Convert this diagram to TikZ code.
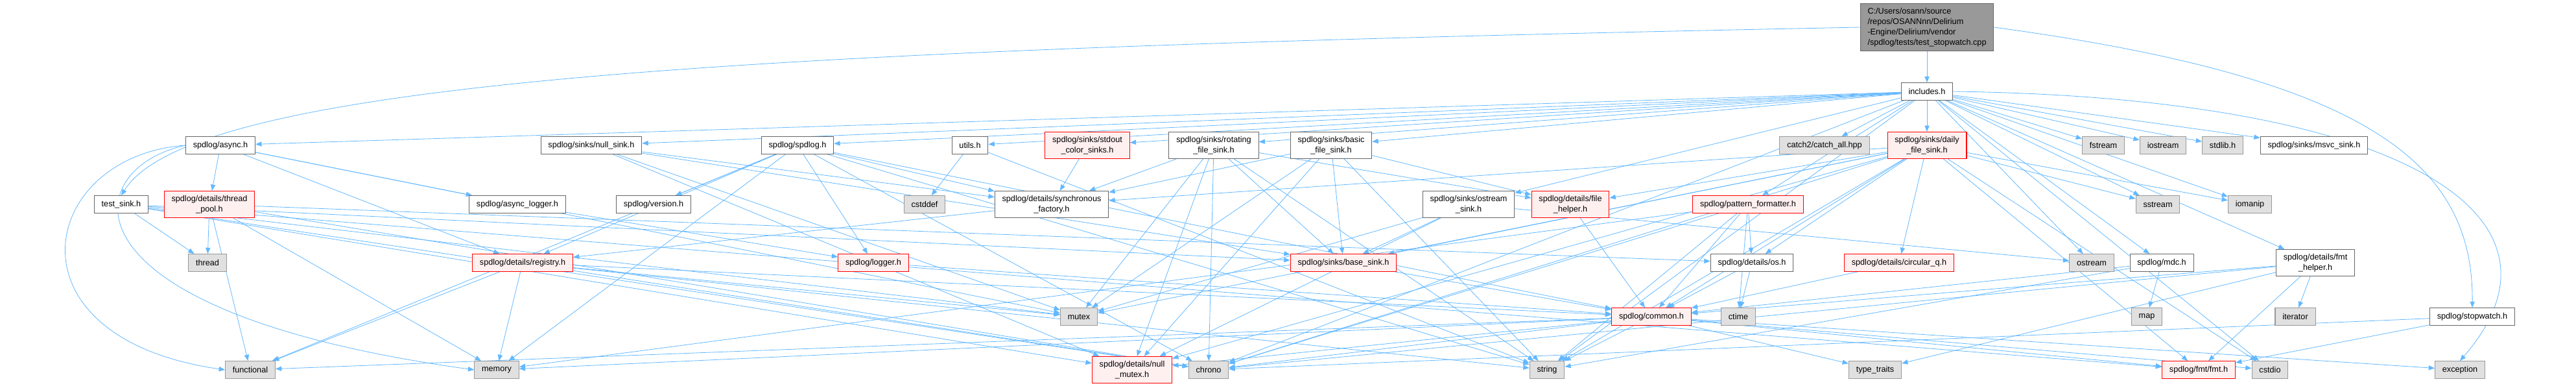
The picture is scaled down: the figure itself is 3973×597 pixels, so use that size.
\documentclass[tikz,border=0pt]{standalone}
\usepackage{fontspec}
\setmainfont{Liberation Sans}
\usetikzlibrary{arrows.meta}
\definecolor{edgeblue}{HTML}{63B8FF}
\definecolor{redfill}{HTML}{FFF0F0}
\definecolor{sysfill}{HTML}{E0E0E0}
\definecolor{sysline}{HTML}{999999}
\definecolor{docline}{HTML}{666666}
\definecolor{rootfill}{HTML}{999999}
\pgfdeclarelayer{bg}
\pgfsetlayers{bg,main}
\tikzset{
  box/.style = {draw = docline, fill = white, line width = 0.8pt, inner xsep = 8.5pt, inner ysep = 5pt,
    minimum height = 20pt, align = center, font = \fontsize{9.5}{12}\selectfont},
  redbox/.style = {box, draw = red, fill = redfill},
  sysbox/.style = {box, draw = sysline, fill = sysfill},
  rootbox/.style = {box, fill = rootfill, align = left},
  dep/.style = {->, draw = edgeblue, line width = 0.6pt},
  >={Triangle[length = 7pt, width = 5.5pt]}
}
\begin{document}
\begin{tikzpicture}[x = 0.75pt, y = -0.75pt]
\useasboundingbox (0,0) rectangle (3973,597);
\node[rootbox] at (2972,42) (main) {C:/Users/osann/source\\/repos/OSANNnn/Delirium\\-Engine/Delirium/vendor\\/spdlog/tests/test\_stopwatch.cpp};
\node[box] at (2972,141) (inc) {includes.h};
\node[box] at (340,224) (async) {spdlog/async.h};
\node[box] at (912,224) (nullsink) {spdlog/sinks/null\_sink.h};
\node[box] at (1230,224) (spdlog) {spdlog/spdlog.h};
\node[box] at (1496,224) (utils) {utils.h};
\node[redbox] at (1677,224) (stdoutcolor) {spdlog/sinks/stdout\\\_color\_sinks.h};
\node[box] at (1872,224) (rotating) {spdlog/sinks/rotating\\\_file\_sink.h};
\node[box] at (2053,224) (basicfile) {spdlog/sinks/basic\\\_file\_sink.h};
\node[sysbox] at (2814,224) (catch) {catch2/catch\_all.hpp};
\node[redbox] at (2972,224) (daily) {spdlog/sinks/daily\\\_file\_sink.h};
\node[sysbox] at (3244,224) (fstream) {fstream};
\node[sysbox] at (3336,224) (iostream) {iostream};
\node[sysbox] at (3428,224) (stdlib) {stdlib.h};
\node[box] at (3569,224) (msvc) {spdlog/sinks/msvc\_sink.h};
\node[box] at (187,315) (testsink) {test\_sink.h};
\node[redbox] at (323,315) (threadpool) {spdlog/details/thread\\\_pool.h};
\node[box] at (798,315) (asynclogger) {spdlog/async\_logger.h};
\node[box] at (1008,315) (version) {spdlog/version.h};
\node[sysbox] at (1426,315) (cstddef) {cstddef};
\node[box] at (1622,315) (syncfactory) {spdlog/details/synchronous\\\_factory.h};
\node[box] at (2265,315) (ostreamsink) {spdlog/sinks/ostream\\\_sink.h};
\node[redbox] at (2422,315) (filehelper) {spdlog/details/file\\\_helper.h};
\node[redbox] at (2696,315) (patternfmt) {spdlog/pattern\_formatter.h};
\node[sysbox] at (3328,315) (sstream) {sstream};
\node[sysbox] at (3470,315) (iomanip) {iomanip};
\node[sysbox] at (320,405) (thread) {thread};
\node[redbox] at (806,405) (registry) {spdlog/details/registry.h};
\node[redbox] at (1347,405) (logger) {spdlog/logger.h};
\node[redbox] at (2072,405) (basesink) {spdlog/sinks/base\_sink.h};
\node[box] at (2702,405) (os) {spdlog/details/os.h};
\node[redbox] at (2929,405) (circq) {spdlog/details/circular\_q.h};
\node[sysbox] at (3226,405) (ostream) {ostream};
\node[box] at (3334,405) (mdc) {spdlog/mdc.h};
\node[box] at (3571,405) (fmthelper) {spdlog/details/fmt\\\_helper.h};
\node[sysbox] at (1664,488) (mutex) {mutex};
\node[redbox] at (2547,488) (common) {spdlog/common.h};
\node[sysbox] at (2681,488) (ctime) {ctime};
\node[sysbox] at (3311,488) (map) {map};
\node[sysbox] at (3540,488) (iterator) {iterator};
\node[box] at (3813,488) (stopwatch) {spdlog/stopwatch.h};
\node[sysbox] at (386,570) (functional) {functional};
\node[sysbox] at (766,570) (memory) {memory};
\node[redbox] at (1746,570) (nullmutex) {spdlog/details/null\\\_mutex.h};
\node[sysbox] at (1864,570) (chrono) {chrono};
\node[sysbox] at (2386,570) (string) {string};
\node[sysbox] at (2892,570) (typetraits) {type\_traits};
\node[redbox] at (3391,570) (fmt) {spdlog/fmt/fmt.h};
\node[sysbox] at (3501,570) (cstdio) {cstdio};
\node[sysbox] at (3794,570) (exception) {exception};
\begin{pgfonlayer}{bg}
\draw[dep] (main) -- (inc);
\draw[dep] (main.west) .. controls (1200,75) and (300,120) .. (testsink.north);
\draw[dep] (main.east) .. controls (3650,120) and (3815,250) .. (stopwatch.north);
\draw[dep] (inc) -- (catch);
\draw[dep] (inc) -- (utils);
\draw[dep] (inc) -- (chrono);
\draw[dep] (inc) -- (cstdio);
\draw[dep] (inc.east) .. controls (3700,150) and (3990,330) .. (exception.north);
\draw[dep] (inc) -- (fstream);
\draw[dep] (inc) -- (iostream);
\draw[dep] (inc) -- (ostream);
\draw[dep] (inc) -- (sstream);
\draw[dep] (inc) -- (string);
\draw[dep] (inc) -- (iomanip);
\draw[dep] (inc) -- (stdlib);
\draw[dep] (inc) -- (spdlog);
\draw[dep] (inc) -- (async);
\draw[dep] (inc) -- (fmthelper);
\draw[dep] (inc) -- (mdc);
\draw[dep] (inc) -- (basicfile);
\draw[dep] (inc) -- (daily);
\draw[dep] (inc) -- (nullsink);
\draw[dep] (inc) -- (ostreamsink);
\draw[dep] (inc) -- (rotating);
\draw[dep] (inc) -- (stdoutcolor);
\draw[dep] (inc) -- (msvc);
\draw[dep] (inc) -- (patternfmt);
\draw[dep] (testsink) -- (nullmutex);
\draw[dep] (testsink) -- (basesink);
\draw[dep] (testsink) -- (fmt);
\draw[dep] (testsink) -- (chrono);
\draw[dep] (testsink) -- (mutex);
\draw[dep] (testsink) -- (thread);
\draw[dep] (async) -- (asynclogger);
\draw[dep] (async) -- (registry);
\draw[dep] (async) -- (threadpool);
\draw[dep] (async.west) .. controls (60,240) and (0,520) .. (functional.west);
\draw[dep] (async.west) .. controls (120,260) and (80,480) .. (memory.west);
\draw[dep] (async) -- (mutex);
\draw[dep] (nullsink) -- (nullmutex);
\draw[dep] (nullsink) -- (syncfactory);
\draw[dep] (nullsink) -- (basesink);
\draw[dep] (nullsink) -- (mutex);
\draw[dep] (spdlog) -- (common);
\draw[dep] (spdlog) -- (registry);
\draw[dep] (spdlog) -- (syncfactory);
\draw[dep] (spdlog) -- (logger);
\draw[dep] (spdlog) -- (version);
\draw[dep] (spdlog) -- (chrono);
\draw[dep] (spdlog) -- (functional);
\draw[dep] (spdlog) -- (memory);
\draw[dep] (spdlog) -- (string);
\draw[dep] (utils) -- (cstddef);
\draw[dep] (utils) -- (string);
\draw[dep] (stdoutcolor) -- (syncfactory);
\draw[dep] (rotating) -- (filehelper);
\draw[dep] (rotating) -- (nullmutex);
\draw[dep] (rotating) -- (syncfactory);
\draw[dep] (rotating) -- (basesink);
\draw[dep] (rotating) -- (chrono);
\draw[dep] (rotating) -- (mutex);
\draw[dep] (rotating) -- (string);
\draw[dep] (basicfile) -- (filehelper);
\draw[dep] (basicfile) -- (nullmutex);
\draw[dep] (basicfile) -- (syncfactory);
\draw[dep] (basicfile) -- (basesink);
\draw[dep] (basicfile) -- (mutex);
\draw[dep] (basicfile) -- (string);
\draw[dep] (daily) -- (common);
\draw[dep] (daily) -- (circq);
\draw[dep] (daily) -- (filehelper);
\draw[dep] (daily) -- (nullmutex);
\draw[dep] (daily) -- (os);
\draw[dep] (daily) -- (syncfactory);
\draw[dep] (daily) -- (fmt);
\draw[dep] (daily) -- (basesink);
\draw[dep] (daily) -- (chrono);
\draw[dep] (daily) -- (cstdio);
\draw[dep] (daily) -- (iomanip);
\draw[dep] (daily) -- (mutex);
\draw[dep] (daily) -- (sstream);
\draw[dep] (daily) -- (string);
\draw[dep] (ostreamsink) -- (nullmutex);
\draw[dep] (ostreamsink) -- (basesink);
\draw[dep] (ostreamsink) -- (mutex);
\draw[dep] (ostreamsink) -- (ostream);
\draw[dep] (patternfmt) -- (common);
\draw[dep] (patternfmt) -- (os);
\draw[dep] (patternfmt) -- (chrono);
\draw[dep] (patternfmt) -- (ctime);
\draw[dep] (patternfmt) -- (memory);
\draw[dep] (patternfmt) -- (string);
\draw[dep] (fmthelper) -- (chrono);
\draw[dep] (fmthelper) -- (iterator);
\draw[dep] (fmthelper) -- (common);
\draw[dep] (fmthelper) -- (fmt);
\draw[dep] (fmthelper) -- (typetraits);
\draw[dep] (mdc) -- (map);
\draw[dep] (mdc) -- (string);
\draw[dep] (mdc) -- (common);
\draw[dep] (stopwatch) -- (fmt);
\draw[dep] (stopwatch) -- (chrono);
\draw[dep] (asynclogger) -- (logger);
\draw[dep] (registry) -- (common);
\draw[dep] (registry) -- (chrono);
\draw[dep] (registry) -- (functional);
\draw[dep] (registry) -- (memory);
\draw[dep] (registry) -- (mutex);
\draw[dep] (registry) -- (string);
\draw[dep] (threadpool) -- (os);
\draw[dep] (threadpool) -- (chrono);
\draw[dep] (threadpool) -- (functional);
\draw[dep] (threadpool) -- (memory);
\draw[dep] (threadpool) -- (thread);
\draw[dep] (syncfactory) -- (registry);
\draw[dep] (logger) -- (common);
\draw[dep] (basesink) -- (common);
\draw[dep] (filehelper) -- (common);
\draw[dep] (os) -- (ctime);
\draw[dep] (os) -- (common);
\draw[dep] (circq) -- (common);
\draw[dep] (common) -- (nullmutex);
\draw[dep] (common) -- (chrono);
\draw[dep] (common) -- (cstdio);
\draw[dep] (common) -- (exception);
\draw[dep] (common) -- (functional);
\draw[dep] (common) -- (memory);
\draw[dep] (common) -- (string);
\draw[dep] (common) -- (typetraits);
\draw[dep] (common) -- (fmt);
\end{pgfonlayer}
\end{tikzpicture}
\end{document}
